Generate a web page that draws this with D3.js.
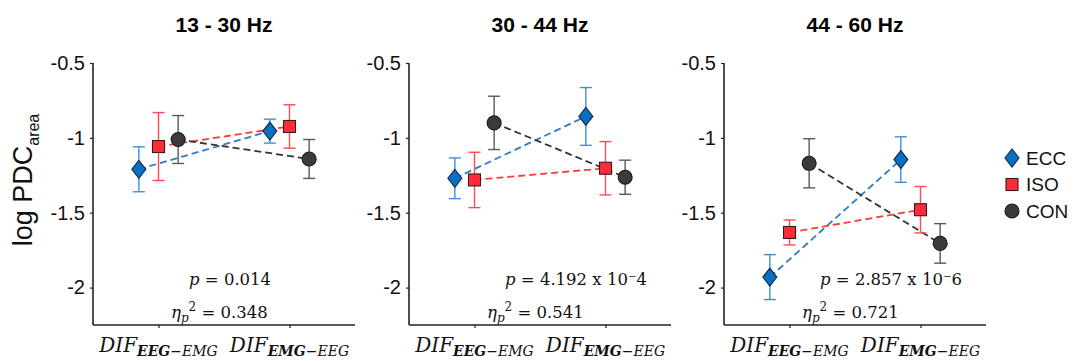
<!DOCTYPE html>
<html>
<head>
<meta charset="utf-8">
<script src="https://cdn.jsdelivr.net/npm/d3@7"></script>
<style>
  body { margin: 0; background: #fff; }
  svg { display: block; }
</style>
</head>
<body>
<svg id="chart" width="1083" height="361"></svg>
<script>
// values
const bands = ["13 - 30 Hz", "30 - 44 Hz", "44 - 60 Hz"];
const directions = [["EEG", "EMG"], ["EMG", "EEG"]];
const groups = ["ECC", "ISO", "CON"];
const yTicks = [-0.5, -1, -1.5, -2];

const eccMean = [[-1.21, -0.955], [-1.27, -0.857], [-1.93, -1.145]];
const eccErr  = [[0.15, 0.08], [0.136, 0.193], [0.15, 0.152]];
const isoMean = [[-1.058, -0.924], [-1.281, -1.203], [-1.632, -1.48]];
const isoErr  = [[0.227, 0.145], [0.185, 0.178], [0.083, 0.155]];
const conMean = [[-1.011, -1.141], [-0.9, -1.263], [-1.17, -1.705]];
const conErr  = [[0.16, 0.13], [0.178, 0.114], [0.164, 0.132]];

const pValues = ["0.014", "4.192 x 10\u207B4", "2.857 x 10\u207B6"];
const etaValues = ["0.348", "0.541", "0.721"];

const means = [eccMean, isoMean, conMean];
const errs = [eccErr, isoErr, conErr];

const style = {
  ECC: { fill: "#0b6fc1", edge: "#12284a", bar: "#3f8fd6", line: "#2a7dcc", off: -0.15 },
  ISO: { fill: "#ff2b3b", edge: "#3a1a1a", bar: "#ff4b55", line: "#ff3a3a", off: 0 },
  CON: { fill: "#3b3b3b", edge: "#1a1a1a", bar: "#585858", line: "#333333", off: 0.15 }
};

const svg = d3.select("#chart");
const panelLeft = [93, 409, 724];
const plotTop = 63, plotW = 262, plotH = 262;

const x = d3.scaleLinear().domain([0.5, 2.5]).range([0, plotW]);
const y = d3.scaleLinear().domain([-2.25, -0.5]).range([plotH, 0]);

const serif = "'DejaVu Serif', serif";

function marker(sel, g, px, py) {
  const s = style[g];
  if (g === "ECC") {
    sel.append("path")
      .attr("d", "M0,-9 L7,0 L0,9 L-7,0 Z")
      .attr("transform", `translate(${px},${py})`)
      .attr("fill", s.fill).attr("stroke", s.edge).attr("stroke-width", 1.1);
  } else if (g === "ISO") {
    sel.append("rect")
      .attr("x", px - 6).attr("y", py - 6).attr("width", 12).attr("height", 12)
      .attr("fill", s.fill).attr("stroke", s.edge).attr("stroke-width", 1.1);
  } else {
    sel.append("circle")
      .attr("cx", px).attr("cy", py).attr("r", 7)
      .attr("fill", s.fill).attr("stroke", s.edge).attr("stroke-width", 1.1);
  }
}

bands.forEach((band, b) => {
  const g = svg.append("g").attr("transform", `translate(${panelLeft[b]},${plotTop})`);

  // title
  g.append("text")
    .attr("x", plotW / 2).attr("y", -31)
    .attr("text-anchor", "middle")
    .style("font", "bold 21px Arial, 'Liberation Sans', sans-serif")
    .text(band);

  // axes
  const yAxis = d3.axisLeft(y).tickValues(yTicks).tickSize(3).tickPadding(5)
    .tickFormat(d => String(d));
  const ya = g.append("g").call(yAxis);
  ya.select(".domain").attr("stroke", "#222").attr("stroke-width", 1.6).attr("d", `M0,0V${plotH}`);
  ya.selectAll(".tick line").attr("stroke", "#222").attr("stroke-width", 1.2);
  ya.selectAll(".tick text").style("font", "20px Arial, 'Liberation Sans', sans-serif").attr("fill", "#111");

  const xAxis = d3.axisBottom(x).tickValues([1, 2]).tickSize(3).tickFormat("");
  const xa = g.append("g").attr("transform", `translate(0,${plotH})`).call(xAxis);
  xa.select(".domain").attr("stroke", "#222").attr("stroke-width", 1.6).attr("d", `M0,0H${plotW}`);
  xa.selectAll(".tick line").attr("stroke", "#222").attr("stroke-width", 1.2);

  // x tick labels
  directions.forEach((d, i) => {
    const t = g.append("text")
      .attr("x", x(i + 1)).attr("y", plotH + 27)
      .attr("text-anchor", "middle")
      .style("font-family", serif).attr("fill", "#111");
    t.append("tspan").style("font-style", "italic").style("font-size", "20px").text("DIF");
    t.append("tspan").attr("dy", 4).style("font-style", "italic").style("font-weight", "bold").style("font-size", "14px").text(d[0]);
    t.append("tspan").style("font-style", "italic").style("font-size", "14px").text("\u2212" + d[1]);
  });

  // dashed connecting lines
  groups.forEach((grp, k) => {
    const s = style[grp];
    g.append("line")
      .attr("x1", x(1 + s.off)).attr("y1", y(means[k][b][0]))
      .attr("x2", x(2 + s.off)).attr("y2", y(means[k][b][1]))
      .attr("stroke", s.line).attr("stroke-width", 1.8).attr("stroke-dasharray", "7,4");
  });

  // error bars + markers
  groups.forEach((grp, k) => {
    const s = style[grp];
    [0, 1].forEach(i => {
      const px = x(i + 1 + s.off);
      const m = means[k][b][i], e = errs[k][b][i];
      const eb = g.append("g").attr("stroke", s.bar).attr("stroke-width", 1.4);
      eb.append("line").attr("x1", px).attr("x2", px).attr("y1", y(m + e)).attr("y2", y(m - e));
      eb.append("line").attr("x1", px - 6).attr("x2", px + 6).attr("y1", y(m + e)).attr("y2", y(m + e));
      eb.append("line").attr("x1", px - 6).attr("x2", px + 6).attr("y1", y(m - e)).attr("y2", y(m - e));
    });
  });
  groups.forEach((grp, k) => {
    const s = style[grp];
    [0, 1].forEach(i => marker(g, grp, x(i + 1 + s.off), y(means[k][b][i])));
  });

  // statistics
  const pt = g.append("text").attr("x", 96).attr("y", 222)
    .style("font-family", serif).style("font-size", "16.5px").attr("fill", "#111");
  pt.append("tspan").style("font-style", "italic").text("p");
  pt.append("tspan").text(" = " + pValues[b]);

  const et = g.append("text").attr("x", 78).attr("y", 255)
    .style("font-family", serif).style("font-size", "16.5px").attr("fill", "#111");
  et.append("tspan").style("font-style", "italic").text("\u03B7");
  et.append("tspan").attr("dy", 4).style("font-style", "italic").style("font-size", "12px").text("p");
  et.append("tspan").attr("dy", -11).style("font-size", "12px").text("2");
  et.append("tspan").attr("dy", 7).text(" = " + etaValues[b]);
});

// y label
const yl = svg.append("text")
  .attr("transform", "translate(32,180) rotate(-90)")
  .attr("text-anchor", "middle")
  .style("font-family", "Arial, 'Liberation Sans', sans-serif").attr("fill", "#111");
yl.append("tspan").style("font-size", "27px").text("log PDC");
yl.append("tspan").attr("dy", 7).style("font-size", "16px").text("area");

// legend
const leg = svg.append("g").attr("transform", "translate(1012,158)");
groups.forEach((grp, k) => {
  const row = leg.append("g").attr("transform", `translate(0,${k * 26.5})`);
  marker(row, grp, 0, 0);
  row.append("text").attr("x", 14).attr("y", 0).attr("dy", "0.35em")
    .style("font", "19px Arial, 'Liberation Sans', sans-serif").attr("fill", "#111")
    .text(grp);
});
</script>
</body>
</html>
